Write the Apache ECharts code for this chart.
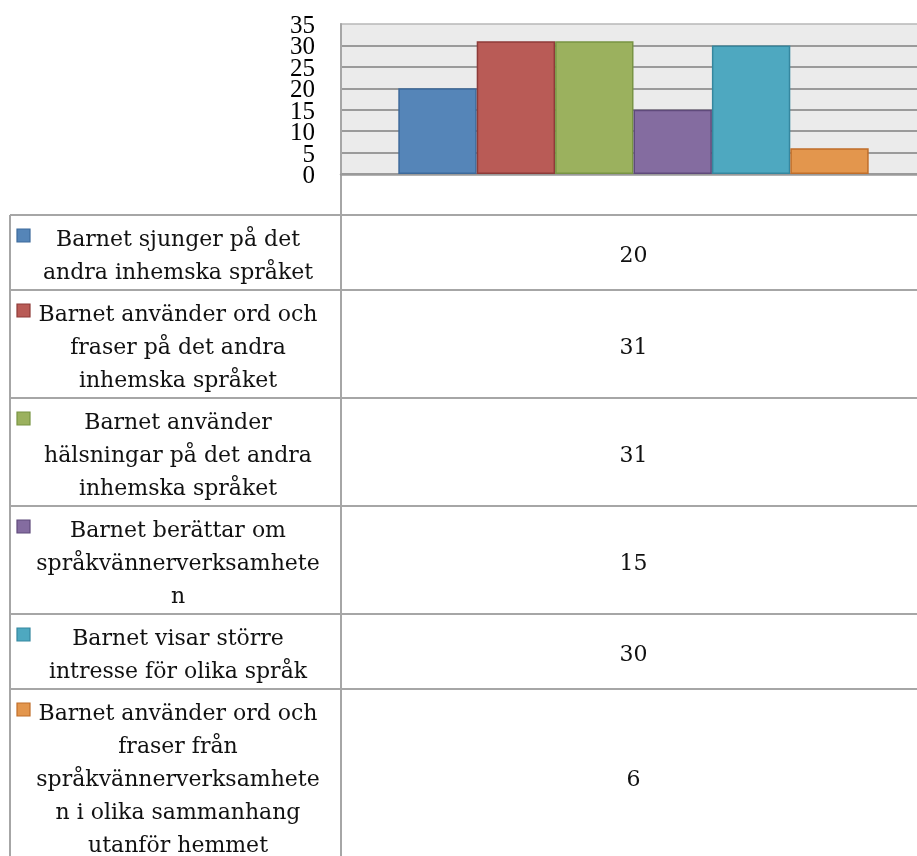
<!DOCTYPE html>
<html>
<head>
<meta charset="utf-8">
<script src="https://cdn.jsdelivr.net/npm/echarts@6/dist/echarts.min.js"></script>
<style>
  html, body { margin: 0; padding: 0; background: #ffffff; overflow: hidden; }
  /* The plot and table run on past the right edge of the window. */
  #chart { width: 940px; height: 856px; }
</style>
</head>
<body>
<div id="chart"></div>
<script>
// One category, six answers shown as adjacent columns plus a data table below.
const categories = ['Svar'];
const seriesNames = [
  'Barnet sjunger på det\nandra inhemska språket',
  'Barnet använder ord och\nfraser på det andra\ninhemska språket',
  'Barnet använder\nhälsningar på det andra\ninhemska språket',
  'Barnet berättar om\nspråkvännerverksamhete\nn',
  'Barnet visar större\nintresse för olika språk',
  'Barnet använder ord och\nfraser från\nspråkvännerverksamhete\nn i olika sammanhang\nutanför hemmet'
];
const seriesValues = [20, 31, 31, 15, 30, 6];
const yTickValues = [0, 5, 10, 15, 20, 25, 30, 35];
const yMin = 0;
const yMax = 35;
const yInterval = 5;

const fillColors = ['#5585b8', '#b95b56', '#9bb15e', '#846ca0', '#4ea8c0', '#e3964d'];
const edgeColors = ['#3d6a9b', '#8e3b38', '#789443', '#5f4a7b', '#35879f', '#c06e2a'];

const FONT = 'DejaVu Serif';
const GRID = { left: 341, top: 24, width: 585, height: 150 };
const LINE_COLOR = '#a6a6a6';

const chart = echarts.init(document.getElementById('chart'), null, { renderer: 'canvas' });

chart.setOption({
  animation: false,
  backgroundColor: '#ffffff',
  grid: {
    left: GRID.left, top: GRID.top, width: GRID.width, height: GRID.height,
    show: true, backgroundColor: '#ebebeb', borderColor: '#b8b8b8', borderWidth: 1.5
  },
  xAxis: {
    type: 'category',
    data: categories,
    axisLine: { show: true, lineStyle: { color: '#9a9a9a', width: 2.5 } },
    axisTick: { show: false },
    axisLabel: { show: false },
    splitLine: { show: false }
  },
  yAxis: {
    type: 'value',
    min: yMin, max: yMax, interval: yInterval,
    axisLine: { show: true, lineStyle: { color: LINE_COLOR, width: 2 } },
    axisTick: { show: false },
    // Tick labels are stacked so tightly that the built-in labels would drop
    // overlapping ones; they are placed below via the axis scale instead.
    axisLabel: { show: false },
    splitLine: { show: true, showMaxLine: false, lineStyle: { color: '#9a9a9a', width: 2 } }
  },
  series: seriesNames.map((name, i) => ({
    name: name,
    type: 'bar',
    barWidth: 78.4,
    barGap: '0%',
    data: [seriesValues[i]],
    itemStyle: { color: fillColors[i], borderColor: edgeColors[i], borderWidth: 1.5 }
  }))
});

const graphics = [];

// Value-axis tick labels.
yTickValues.forEach(v => {
  const py = chart.convertToPixel({ yAxisIndex: 0 }, v);
  graphics.push({
    type: 'text', x: 315, y: py + 2.5,
    style: { text: String(v), fontFamily: 'Liberation Serif', fontSize: 25, fill: '#000000',
      align: 'right', verticalAlign: 'middle' }
  });
});

// Data table under the plot: legend key + wrapped series name, and the value per row.
const tableTop = 215;
const tableLeft = 10;
const dividerX = GRID.left;
const tableRight = 940;
const linePitch = 33;
const rowPad = 4.5;
const textShift = 4;
const textCenterX = 178;
const valueX = chart.convertToPixel({ xAxisIndex: 0 }, categories[0]);

let y = tableTop;
graphics.push({ type: 'line', shape: { x1: tableLeft, y1: y, x2: tableRight, y2: y },
  style: { stroke: LINE_COLOR, lineWidth: 2 } });

seriesNames.forEach((name, i) => {
  const lines = name.split('\n').length;
  const h = rowPad * 2 + lines * linePitch;
  const cy = y + h / 2 + textShift;
  graphics.push({
    type: 'rect',
    shape: { x: 17, y: y + 14, width: 13, height: 13 },
    style: { fill: fillColors[i], stroke: edgeColors[i], lineWidth: 1.2 }
  });
  graphics.push({
    type: 'text', x: textCenterX, y: cy,
    style: { text: name, fontFamily: FONT, fontSize: 22, fill: '#111111',
      align: 'center', verticalAlign: 'middle', lineHeight: linePitch }
  });
  graphics.push({
    type: 'text', x: valueX, y: cy,
    style: { text: String(seriesValues[i]), fontFamily: FONT, fontSize: 22, fill: '#111111',
      align: 'center', verticalAlign: 'middle' }
  });
  y += h;
  graphics.push({ type: 'line', shape: { x1: tableLeft, y1: y, x2: tableRight, y2: y },
    style: { stroke: LINE_COLOR, lineWidth: 2 } });
});

graphics.push({ type: 'line', shape: { x1: tableLeft, y1: tableTop, x2: tableLeft, y2: y },
  style: { stroke: LINE_COLOR, lineWidth: 2 } });
graphics.push({ type: 'line', shape: { x1: dividerX, y1: GRID.top + GRID.height, x2: dividerX, y2: y },
  style: { stroke: LINE_COLOR, lineWidth: 2 } });

chart.setOption({ graphic: graphics });
</script>
</body>
</html>
